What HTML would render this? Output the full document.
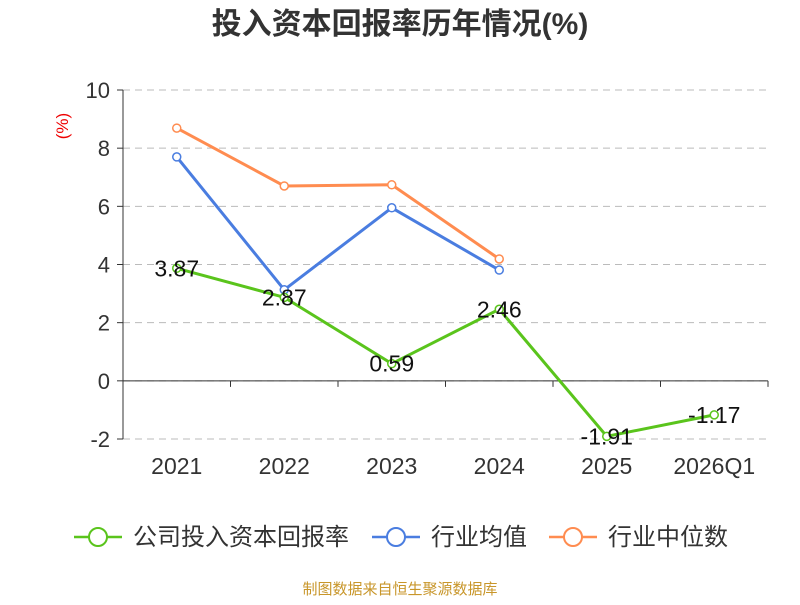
<!DOCTYPE html>
<html><head><meta charset="utf-8"><style>
body{margin:0;background:#fff;font-family:"Liberation Sans","Noto Sans CJK SC",sans-serif}
</style></head><body>
<svg width="800" height="600" xmlns="http://www.w3.org/2000/svg" id="chart">
<text x="400" y="34" text-anchor="middle" font-size="30" font-weight="bold" fill="#333" font-family="Liberation Sans, Noto Sans CJK SC, sans-serif">投入资本回报率历年情况(%)</text>
<text x="68" y="126" text-anchor="middle" font-size="17" fill="#e00" transform="rotate(-90 68 126)">(%)</text>
<g id="grid"></g><g id="axes"></g><g id="series"></g>
<g font-size="24" fill="#333" font-family="Liberation Sans, Noto Sans CJK SC, sans-serif">
<g><line x1="74" y1="537" x2="122" y2="537" stroke="#5ac41c" stroke-width="2.5"/><circle cx="98" cy="537" r="9" fill="#fff" stroke="#5ac41c" stroke-width="2"/><text x="133" y="545">公司投入资本回报率</text></g>
<g><line x1="372" y1="537" x2="420" y2="537" stroke="#4a7de0" stroke-width="2.5"/><circle cx="396" cy="537" r="9" fill="#fff" stroke="#4a7de0" stroke-width="2"/><text x="431" y="545">行业均值</text></g>
<g><line x1="549" y1="537" x2="597" y2="537" stroke="#ff8c50" stroke-width="2.5"/><circle cx="573" cy="537" r="9" fill="#fff" stroke="#ff8c50" stroke-width="2"/><text x="608" y="545">行业中位数</text></g>
</g>
<text x="400" y="594" text-anchor="middle" font-size="15" fill="#c8962a" font-family="Liberation Sans, Noto Sans CJK SC, sans-serif">制图数据来自恒生聚源数据库</text>
</svg>
<script>
const categories=["2021","2022","2023","2024","2025","2026Q1"];
const companyValues=[3.87,2.87,0.59,2.46,-1.91,-1.17];
const industryAvg=[7.7,3.13,5.95,3.81];
const industryMedian=[8.69,6.7,6.74,4.19];
const yTicks=[-2,0,2,4,6,8,10];
const NS="http://www.w3.org/2000/svg";
const L=123,R=768,T=90,B=439,yMin=-2,yMax=10;
const bw=(R-L)/categories.length;
const x=i=>L+bw*(i+0.5);
const y=v=>B-(v-yMin)/(yMax-yMin)*(B-T);
function mk(p,tag,a){const e=document.createElementNS(NS,tag);for(const k in a)e.setAttribute(k,a[k]);p.appendChild(e);return e;}
const grid=document.getElementById('grid'),axes=document.getElementById('axes'),ser=document.getElementById('series');
yTicks.forEach(t=>{
 const g=mk(grid,'line',{x1:L,x2:R,y1:y(t),y2:y(t),stroke:'#bbb','stroke-dasharray':'7,5'});
 
 
 const tk=mk(axes,'line',{x1:L-6,x2:L,y1:y(t),y2:y(t),stroke:'#333'});
 
 
 const lb=mk(axes,'text',{x:L-13,y:y(t)+8,'text-anchor':'end','font-size':22,fill:'#333'});
 lb.textContent=t;
 
 
});
const ya=mk(axes,'line',{x1:L,x2:L,y1:T,y2:B,stroke:'#333'});


const xa=mk(axes,'line',{x1:L,x2:R,y1:y(0),y2:y(0),stroke:'#333'});


for(let i=0;i<=categories.length;i++){
 const tk=mk(axes,'line',{x1:L+bw*i,x2:L+bw*i,y1:y(0),y2:y(0)+6,stroke:'#333'});
 
 
}
categories.forEach((c,i)=>{
 const lb=mk(axes,'text',{x:x(i),y:474,'text-anchor':'middle','font-size':23,fill:'#333'});
 lb.textContent=c;
 
 
});
function series(vals,color,name,labels){
 const pts=vals.map((v,i)=>x(i)+','+y(v)).join(' ');
 const pl=mk(ser,'polyline',{points:pts,fill:'none',stroke:color,'stroke-width':3});
 
 
 vals.forEach((v,i)=>{
  const c=mk(ser,'circle',{cx:x(i),cy:y(v),r:4,fill:'#fff',stroke:color,'stroke-width':1.5});
  
  
  if(labels){
   const t=mk(ser,'text',{x:x(i),y:y(v)+8,'text-anchor':'middle','font-size':23,fill:'#111'});
   t.textContent=v.toFixed(2);
   
   
  }
 });
}
series(industryMedian,'#ff8c50','industry-median',false);
series(industryAvg,'#4a7de0','industry-avg',false);
series(companyValues,'#5ac41c','company',true);
</script>
</body></html>
